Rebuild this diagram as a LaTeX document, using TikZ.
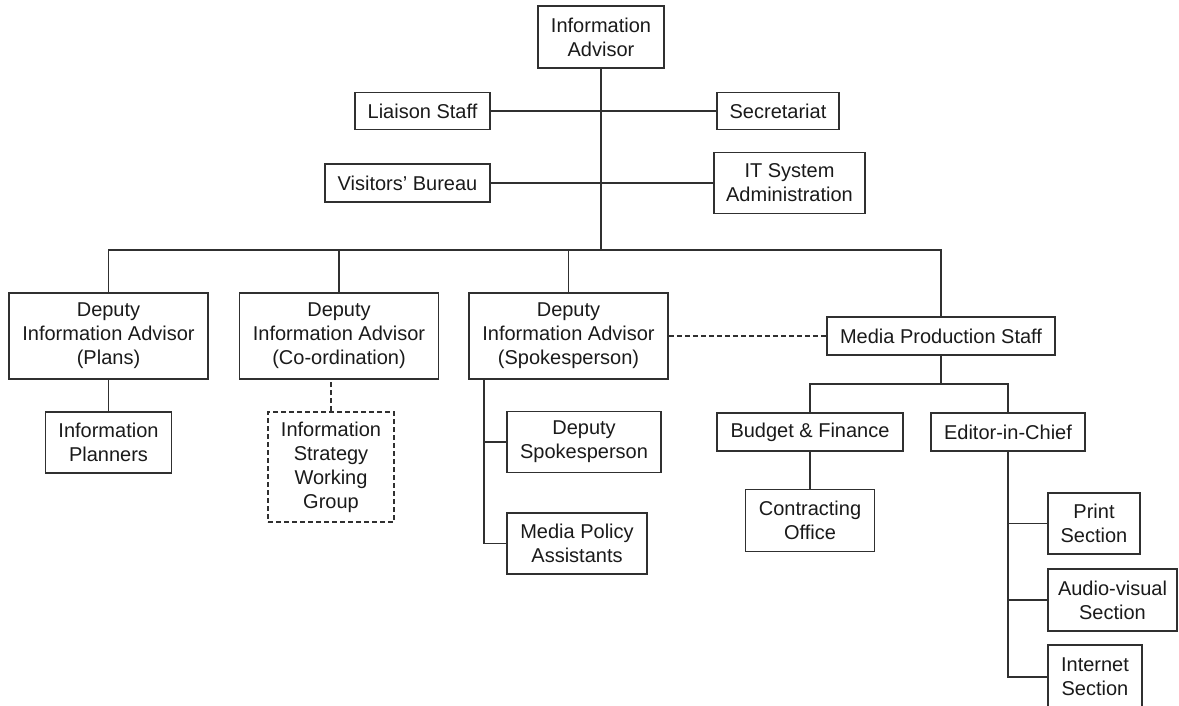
\documentclass[tikz,border=0pt]{standalone}
\usepackage{fontspec}
\setmainfont{Liberation Sans}
\begin{document}
\begin{tikzpicture}[x=1pt,y=-1pt,
  box/.style={draw=linec, line width=1.5pt, inner sep=0pt, align=center,
    font=\fontsize{20pt}{24pt}\selectfont, text=textc},
  conn/.style={draw=linec, line width=1.5pt},
  dsh/.style={dash pattern=on 5pt off 3pt}]
\definecolor{linec}{HTML}{303030}
\definecolor{textc}{HTML}{1A1A1A}
\useasboundingbox (0,0) rectangle (1179,706);
% top level
\node[box, minimum width=126pt, minimum height=62pt] (ia) at (601,37) {Information\\Advisor};
\node[box, minimum width=135pt, minimum height=37pt] (liaison) at (422.5,111) {Liaison Staff};
\node[box, minimum width=122pt, minimum height=37pt] (secr) at (778,111) {Secretariat};
\node[box, minimum width=165pt, minimum height=38pt] (visitors) at (407.5,183) {Visitors' Bureau};
\node[box, minimum width=151pt, minimum height=61pt] (itsys) at (789.5,183) {IT System\\Administration};
\coordinate (hub) at (601,250);
% deputies
\node[box, minimum width=199pt, minimum height=86pt] (dplans) at (108.5,336) {Deputy\\Information Advisor\\(Plans)};
\node[box, minimum width=199pt, minimum height=86pt] (dcoord) at (339,336) {Deputy\\Information Advisor\\(Co-ordination)};
\node[box, minimum width=199pt, minimum height=86pt] (dspokes) at (568.5,336) {Deputy\\Information Advisor\\(Spokesperson)};
\node[box, minimum width=228pt, minimum height=38pt] (media) at (941,336) {Media Production Staff};
% children
\node[box, minimum width=126pt, minimum height=61pt] (planners) at (108.5,442.5) {Information\\Planners};
\node[box, dsh, minimum width=126pt, minimum height=110pt] (iswg) at (331,467) {Information\\Strategy\\Working\\Group};
\node[box, minimum width=154pt, minimum height=61pt] (dspk) at (584,442) {Deputy\\Spokesperson};
\node[box, minimum width=140pt, minimum height=61pt] (mpa) at (577,543.5) {Media Policy\\Assistants};
\node[box, minimum width=186pt, minimum height=38pt] (budget) at (810,432) {Budget \& Finance};
\node[box, minimum width=154pt, minimum height=38pt] (editor) at (1008,432) {Editor-in-Chief};
\node[box, minimum width=129pt, minimum height=62pt] (contract) at (810,520.5) {Contracting\\Office};
\node[box, minimum width=92pt, minimum height=61pt] (print) at (1094,523.5) {Print\\Section};
\node[box, minimum width=129pt, minimum height=62pt] (audio) at (1112.5,600) {Audio-visual\\Section};
\node[box, minimum width=94pt, minimum height=64pt] (internet) at (1095,677) {Internet\\Section};
\coordinate (sx) at (484,0);
\coordinate (mb) at (941,384);
% connectors
\draw[conn] (ia.south) -- (hub);
\draw[conn] (liaison.east) -- (secr.west);
\draw[conn] (visitors.east) -- (itsys.west);
\draw[conn] (dplans.north) |- (hub) -| (media.north);
\draw[conn] (dcoord.north) -- (dcoord.north |- hub);
\draw[conn] (dspokes.north) -- (dspokes.north |- hub);
\draw[conn, dsh] (dspokes.east) -- (media.west);
\draw[conn] (dplans.south) -- (planners.north);
\draw[conn, dsh] (iswg.north) -- (iswg.north |- dcoord.south);
\draw[conn] (dspokes.south -| sx) |- (mpa.west);
\draw[conn] (dspk.west) -- (dspk.west -| sx);
\draw[conn] (media.south) -- (mb);
\draw[conn] (budget.north) |- (mb) -| (editor.north);
\draw[conn] (budget.south) -- (contract.north);
\draw[conn] (editor.south) |- (internet.west);
\draw[conn] (print.west) -- (print.west -| editor.south);
\draw[conn] (audio.west) -- (audio.west -| editor.south);
\end{tikzpicture}
\end{document}
